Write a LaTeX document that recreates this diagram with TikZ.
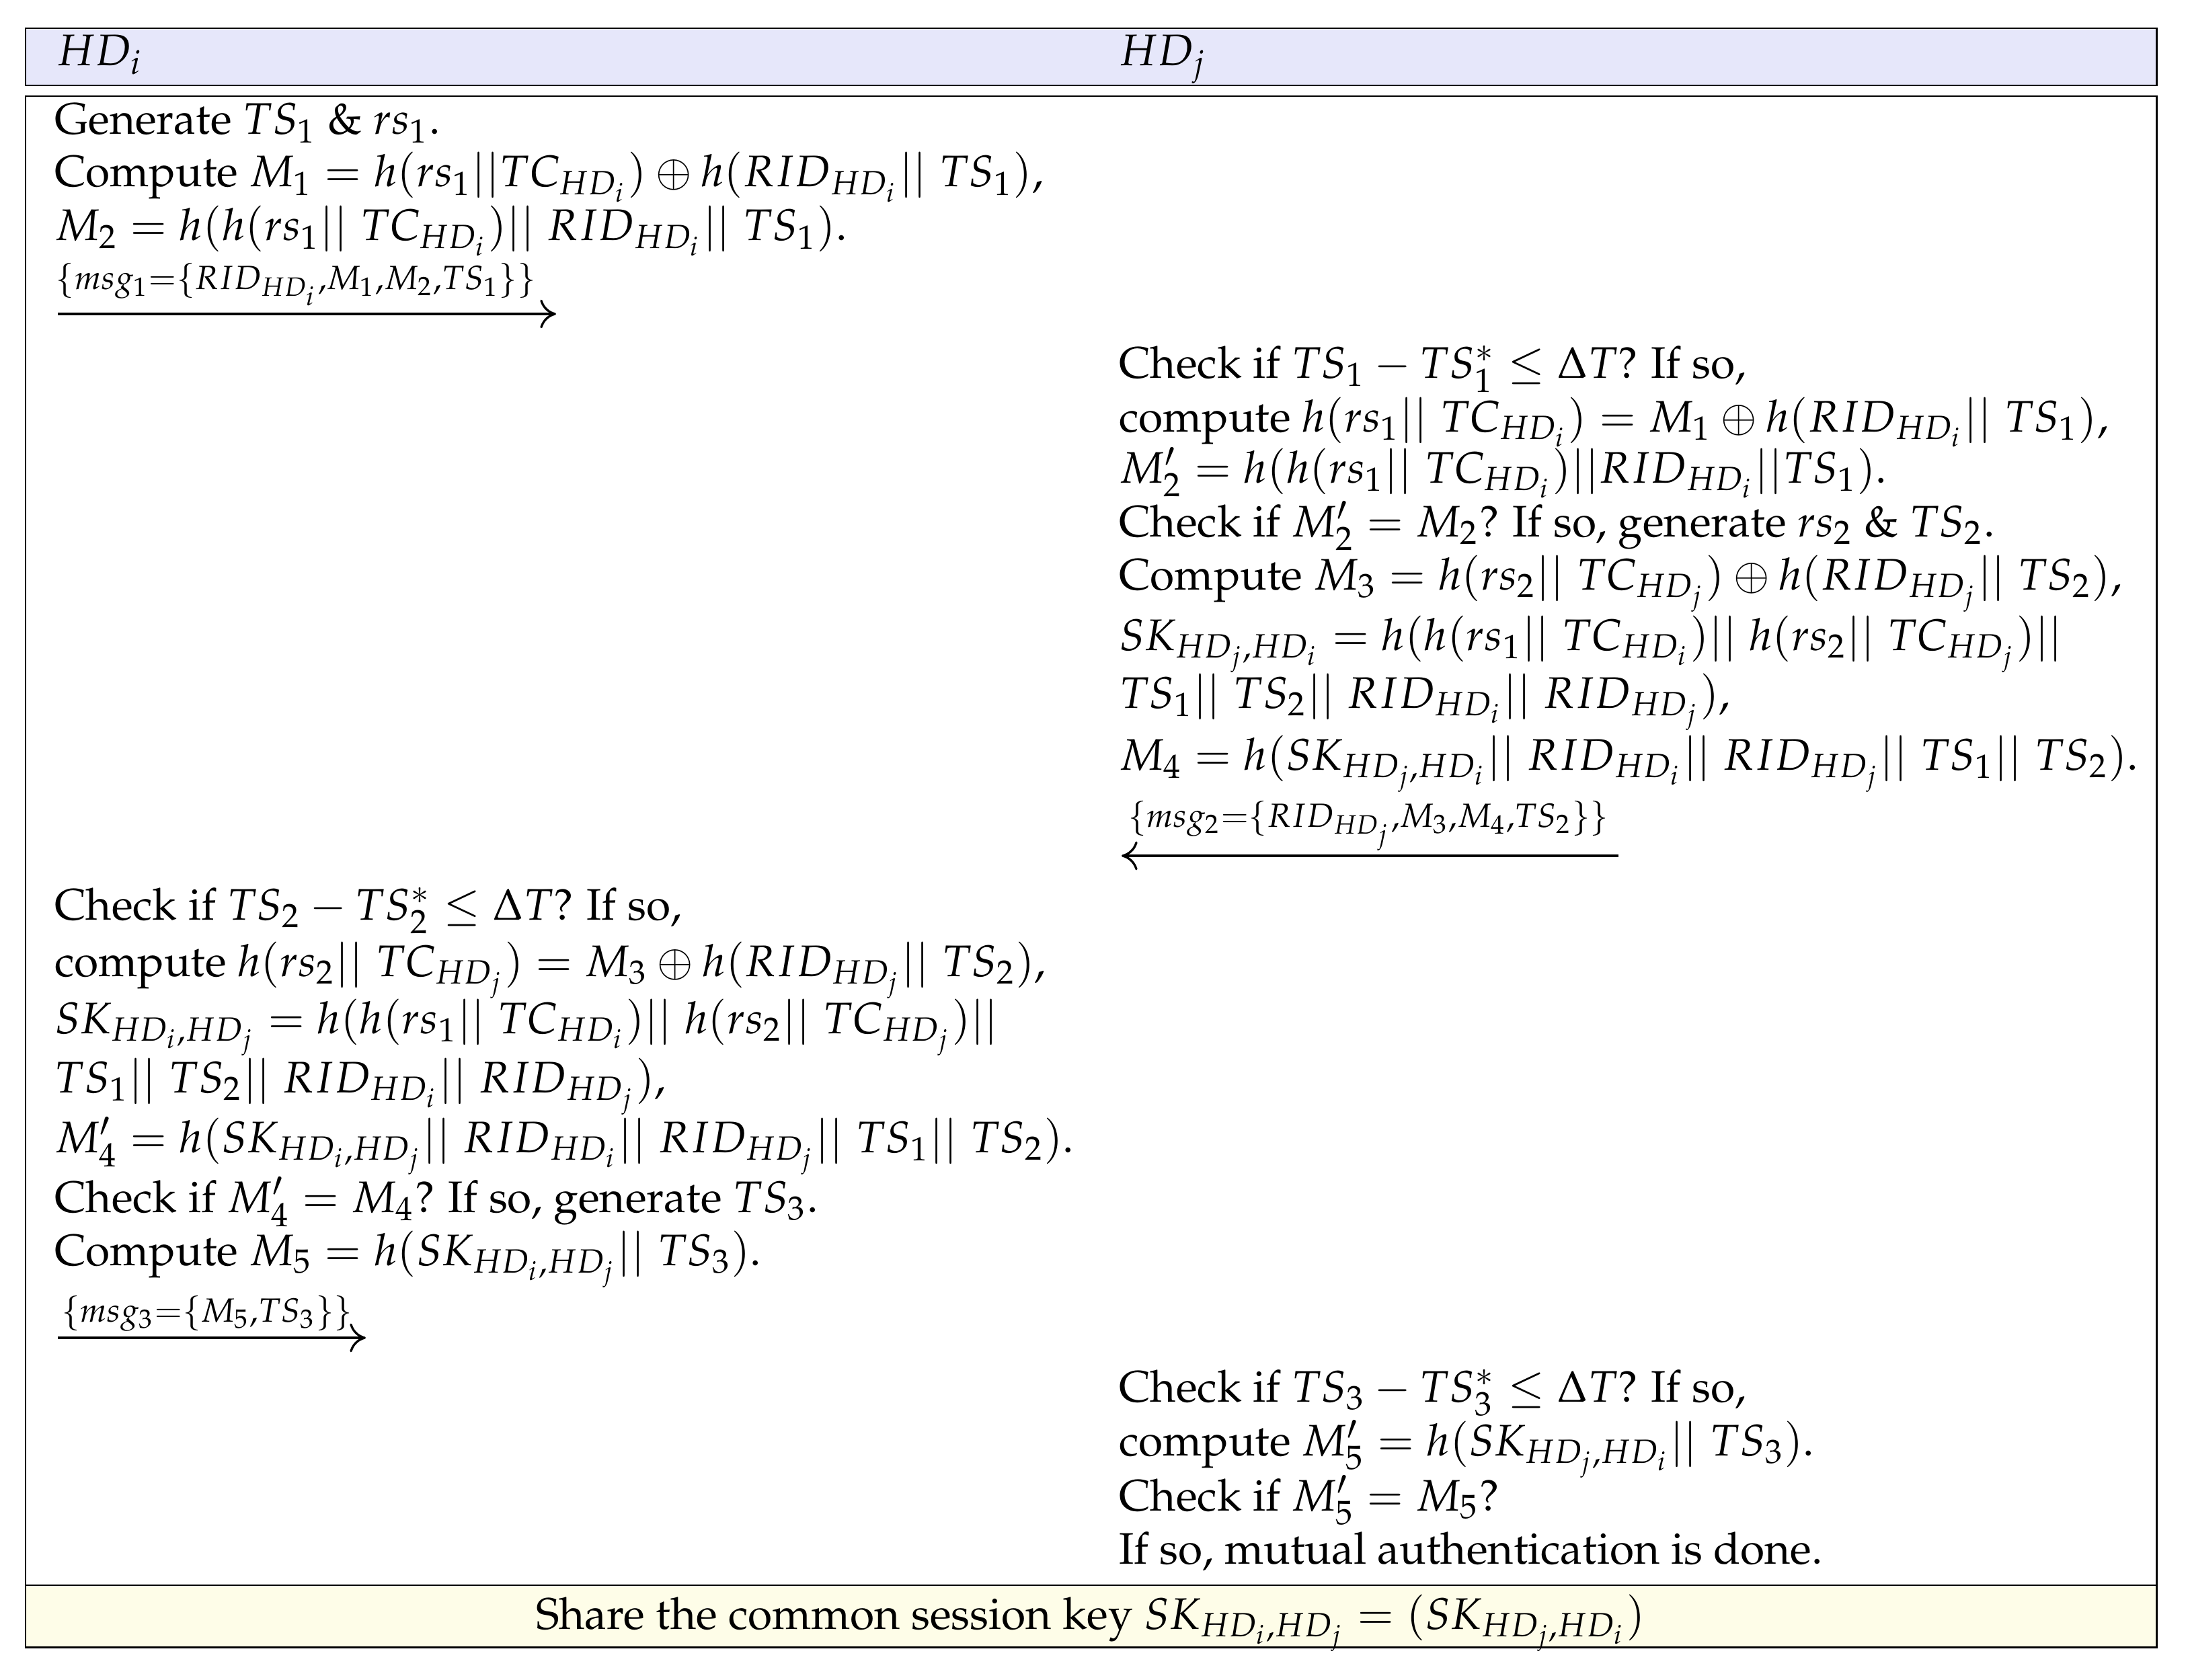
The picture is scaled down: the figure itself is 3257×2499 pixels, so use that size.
\documentclass[tikz,border=0pt]{standalone}
\usepackage[T1]{fontenc}
\usepackage{mathpazo}
\usepackage{amsmath}
\usetikzlibrary{arrows.meta}
\definecolor{hdrfill}{RGB}{230,231,250}
\definecolor{keyfill}{RGB}{254,253,232}
\newcommand{\pp}{||\;}
\tikzset{
  txt/.style={anchor=base west, inner sep=0pt, font=\fontsize{10}{12}\selectfont},
  lbl/.style={anchor=base, inner sep=0pt, font=\fontsize{10}{12}\selectfont},
  msgarrow/.style={line width=0.5pt, -{To[length=3.6pt,width=6.5pt]}},
  frame/.style={line width=0.45pt},
}
\begin{document}
\begin{tikzpicture}[x=0.152pt,y=-0.152pt]
\useasboundingbox (0,0) rectangle (3257,2499);
% frames
\filldraw[frame, fill=hdrfill] (38,42) rectangle (3207,127);
\fill[keyfill] (38,2358) rectangle (3207,2450);
\draw[line width=0.35pt] (38,2358) -- (3207,2358);
\draw[frame] (38,143) rectangle (3207,2450);
% header
\node[txt] (hi) at (83,98) {$HD_i$};
\node[txt] (hj) at (1663,98) {$HD_j$};
% HD_i block 1
\node[txt] (a1) at (80,200) {Generate $TS_1$ \& $rs_1$.};
\node[txt] (a2) at (80,278) {Compute $M_1 = h(rs_1||TC_{HD_i}) \oplus h(RID_{HD_i}\pp TS_1)$,};
\node[txt] (a3) at (80,358) {$M_2 = h(h(rs_1\pp TC_{HD_i})\pp RID_{HD_i}\pp TS_1)$.};
\coordinate (m1s) at (86,467);
\coordinate (m1e) at (827,467);
\draw[msgarrow] (m1s) -- (m1e);
\node[lbl] (t1) at (440,430) {$\scriptstyle\{msg_1=\{RID_{HD_i},M_1,M_2,TS_1\}\}$};
% HD_j block 1
\node[txt] (b1) at (1663,562) {Check if $TS_1 - TS_1^* \leq \Delta T$? If so,};
\node[txt] (b2) at (1663,642) {compute $h(rs_1\pp TC_{HD_i}) = M_1 \oplus h(RID_{HD_i}\pp TS_1)$,};
\node[txt] (b3) at (1663,718) {$M_2' = h(h(rs_1\pp TC_{HD_i})||RID_{HD_i}||TS_1)$.};
\node[txt] (b4) at (1663,798) {Check if $M_2' = M_2$? If so, generate $rs_2$ \& $TS_2$.};
\node[txt] (b5) at (1663,877) {Compute $M_3 = h(rs_2\pp TC_{HD_j}) \oplus h(RID_{HD_j}\pp TS_2)$,};
\node[txt] (b6) at (1663,967) {$SK_{HD_j,HD_i} = h(h(rs_1\pp TC_{HD_i})\pp h(rs_2\pp TC_{HD_j})||$};
\node[txt] (b7) at (1663,1053) {$TS_1\pp TS_2\pp RID_{HD_i}\pp RID_{HD_j})$,};
\node[txt] (b8) at (1663,1145) {$M_4 = h(SK_{HD_j,HD_i}\pp RID_{HD_i}\pp RID_{HD_j}\pp TS_1\pp TS_2)$.};
\coordinate (m2s) at (2407,1273);
\coordinate (m2e) at (1668,1273);
\draw[msgarrow] (m2s) -- (m2e);
\node[lbl] (t2) at (2035,1230) {$\scriptstyle\{msg_2=\{RID_{HD_j},M_3,M_4,TS_2\}\}$};
% HD_i block 2
\node[txt] (c1) at (80,1368) {Check if $TS_2 - TS_2^* \leq \Delta T$? If so,};
\node[txt] (c2) at (80,1452) {compute $h(rs_2\pp TC_{HD_j}) = M_3 \oplus h(RID_{HD_j}\pp TS_2)$,};
\node[txt] (c3) at (80,1537) {$SK_{HD_i,HD_j} = h(h(rs_1\pp TC_{HD_i})\pp h(rs_2\pp TC_{HD_j})||$};
\node[txt] (c4) at (80,1625) {$TS_1\pp TS_2\pp RID_{HD_i}\pp RID_{HD_j})$,};
\node[txt] (c5) at (80,1714) {$M_4' = h(SK_{HD_i,HD_j}\pp RID_{HD_i}\pp RID_{HD_j}\pp TS_1\pp TS_2)$.};
\node[txt] (c6) at (80,1803) {Check if $M_4' = M_4$? If so, generate $TS_3$.};
\node[txt] (c7) at (80,1882) {Compute $M_5 = h(SK_{HD_i,HD_j}\pp TS_3)$.};
\coordinate (m3s) at (86,1990);
\coordinate (m3e) at (544,1990);
\draw[msgarrow] (m3s) -- (m3e);
\node[lbl] (t3) at (308,1966) {$\scriptstyle\{msg_3=\{M_5,TS_3\}\}$};
% HD_j block 2
\node[txt] (d1) at (1663,2085) {Check if $TS_3 - TS_3^* \leq \Delta T$? If so,};
\node[txt] (d2) at (1663,2165) {compute $M_5' = h(SK_{HD_j,HD_i}\pp TS_3)$.};
\node[txt] (d3) at (1663,2247) {Check if $M_5' = M_5$?};
\node[txt] (d4) at (1663,2326) {If so, mutual authentication is done.};
% shared key
\node[lbl] (key) at (1622,2423) {Share the common session key $SK_{HD_i,HD_j} = (SK_{HD_j,HD_i})$};
\end{tikzpicture}
\end{document}
